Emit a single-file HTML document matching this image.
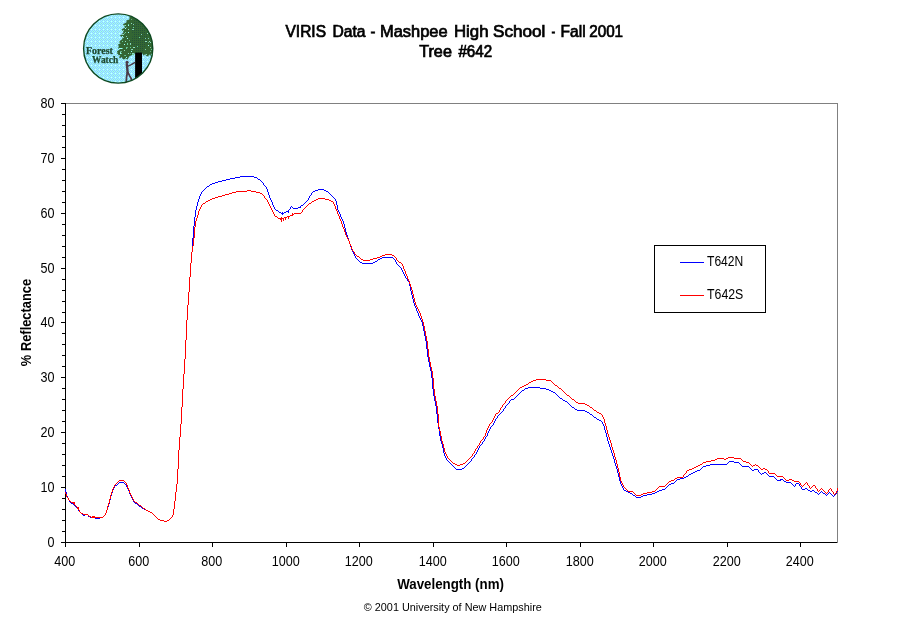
<!DOCTYPE html>
<html lang="en"><head><meta charset="utf-8"><title>VIRIS Data - Mashpee High School - Fall 2001 - Tree #642</title>
<style>
html,body{margin:0;padding:0;background:#fff;}
body{width:911px;height:623px;overflow:hidden;position:relative;font-family:"Liberation Sans",Arial,sans-serif;color:#000;}
svg{position:absolute;left:0;top:0;display:block;will-change:transform;}
.t{font-family:"Liberation Sans",Arial,sans-serif;fill:#000;}
.tick{font-size:13.8px;}
.b{font-weight:bold;}
.logo{font-family:"Liberation Serif","Times New Roman",serif;font-weight:bold;fill:#1e4a30;stroke:#1e4a30;stroke-width:0.25px;font-size:9.6px;}
</style></head><body>
<svg width="911" height="623" viewBox="0 0 911 623">
<rect x="0" y="0" width="911" height="623" fill="#ffffff"/>
<defs><clipPath id="lc"><circle cx="118.2" cy="48.5" r="34.6"/></clipPath>
<pattern id="dz" width="4" height="4" patternUnits="userSpaceOnUse"><rect width="4" height="4" fill="#99ffff"/><rect x="0" y="0" width="1" height="1" fill="#99ccff"/><rect x="2" y="0" width="1" height="1" fill="#99ccff"/><rect x="1" y="1" width="1" height="1" fill="#99ccff"/><rect x="3" y="1" width="1" height="1" fill="#ccffff"/><rect x="0" y="2" width="1" height="1" fill="#99ccff"/><rect x="2" y="2" width="1" height="1" fill="#99ccff"/><rect x="1" y="3" width="1" height="1" fill="#99d9d9"/><rect x="3" y="3" width="1" height="1" fill="#99ccff"/></pattern>
<pattern id="dk" width="2" height="2" patternUnits="userSpaceOnUse"><rect width="2" height="2" fill="#336633"/><rect width="1" height="1" fill="#24523a"/></pattern></defs>
<g id="logo">
<circle cx="118.2" cy="48.5" r="34.6" fill="url(#dz)"/>
<g clip-path="url(#lc)">
<polygon points="129.5,17.5 129.4,19.4 126.3,20.6 126.6,22.2 123.8,23.8 122.9,24.8 124.4,26.3 125.0,27.6 122.6,28.8 121.6,29.7 123.2,31.3 123.4,32.6 121.3,34.4 119.9,35.7 121.9,36.9 122.5,39.1 120.1,40.7 119.1,42.0 120.7,43.2 118.0,44.4 118.8,46.3 118.1,48.2 119.8,49.4 116.9,51.2 117.6,52.6 116.6,53.6 118.6,54.1 117.6,55.3 120.3,55.1 119.1,57.3 119.8,58.6 121.9,57.0 122.6,59.1 124.1,59.6 125.7,58.2 127.3,59.8 129.5,56.3 132.0,55.1 135.1,53.2 142.0,53.2 143.9,55.7 145.1,54.1 146.4,56.1 148.2,56.6 149.1,54.6 150.4,55.3 152.0,53.2 160.1,52.6 160.1,10.0 129.5,10.0" fill="#336633"/>
<polygon points="133.8,18.8 130.7,28.8 133.2,35.0 129.5,42.6 134.5,47.6 135.1,53.2 142.0,53.2 144.5,47.6 148.2,41.3 146.4,32.5 144.5,25.0 140.1,19.4" fill="url(#dk)"/>
<rect x="129" y="40" width="1" height="1" fill="#5fae88"/><rect x="125" y="28" width="1" height="1" fill="#99ffff"/><rect x="133" y="27" width="1" height="1" fill="#66cc99"/><rect x="128" y="25" width="1" height="1" fill="#99ffff"/><rect x="119" y="48" width="2" height="1" fill="#99ffff"/><rect x="119" y="42" width="1" height="1" fill="#66cc99"/><rect x="128" y="53" width="1" height="1" fill="#8fdcc0"/><rect x="131" y="51" width="1" height="1" fill="#99ffff"/><rect x="126" y="48" width="1" height="1" fill="#66cc99"/><rect x="131" y="19" width="1" height="1" fill="#5fae88"/><rect x="125" y="41" width="1" height="1" fill="#8fdcc0"/><rect x="124" y="55" width="2" height="1" fill="#5fae88"/><rect x="126" y="47" width="2" height="1" fill="#66cc99"/><rect x="132" y="54" width="2" height="1" fill="#66cc99"/><rect x="150" y="47" width="1" height="1" fill="#66cc99"/><rect x="127" y="38" width="1" height="1" fill="#99ffff"/><rect x="130" y="53" width="1" height="1" fill="#5fae88"/><rect x="137" y="46" width="1" height="1" fill="#66cc99"/><rect x="130" y="44" width="1" height="1" fill="#7fcbb0"/><rect x="132" y="29" width="2" height="1" fill="#7fcbb0"/><rect x="121" y="48" width="2" height="1" fill="#66cc99"/><rect x="122" y="41" width="1" height="1" fill="#66cc99"/><rect x="141" y="34" width="1" height="1" fill="#7fcbb0"/><rect x="132" y="49" width="1" height="1" fill="#8fdcc0"/><rect x="122" y="36" width="1" height="1" fill="#99ffff"/><rect x="123" y="34" width="1" height="1" fill="#8fdcc0"/><rect x="148" y="42" width="1" height="1" fill="#99ffff"/><rect x="130" y="43" width="1" height="1" fill="#8fdcc0"/><rect x="131" y="23" width="1" height="1" fill="#8fdcc0"/><rect x="145" y="49" width="1" height="1" fill="#7fcbb0"/><rect x="124" y="50" width="1" height="1" fill="#8fdcc0"/><rect x="145" y="38" width="1" height="1" fill="#7fcbb0"/><rect x="148" y="45" width="1" height="1" fill="#99ffff"/><rect x="132" y="53" width="2" height="1" fill="#8fdcc0"/><rect x="133" y="24" width="1" height="1" fill="#7fcbb0"/><rect x="120" y="52" width="1" height="1" fill="#8fdcc0"/><rect x="125" y="32" width="1" height="1" fill="#66cc99"/><rect x="150" y="51" width="1" height="1" fill="#5fae88"/><rect x="123" y="30" width="1" height="1" fill="#7fcbb0"/><rect x="122" y="37" width="2" height="1" fill="#7fcbb0"/><rect x="149" y="41" width="1" height="1" fill="#8fdcc0"/><rect x="131" y="49" width="1" height="1" fill="#7fcbb0"/><rect x="151" y="49" width="2" height="1" fill="#66cc99"/><rect x="126" y="36" width="1" height="1" fill="#7fcbb0"/><rect x="150" y="55" width="2" height="1" fill="#5fae88"/><rect x="128" y="24" width="1" height="1" fill="#66cc99"/><rect x="121" y="48" width="1" height="1" fill="#99ffff"/><rect x="124" y="25" width="1" height="1" fill="#66cc99"/><rect x="148" y="42" width="1" height="1" fill="#5fae88"/><rect x="125" y="25" width="1" height="1" fill="#8fdcc0"/><rect x="150" y="42" width="1" height="1" fill="#8fdcc0"/><rect x="128" y="29" width="1" height="1" fill="#8fdcc0"/><rect x="120" y="53" width="1" height="1" fill="#99ffff"/><rect x="147" y="33" width="1" height="1" fill="#8fdcc0"/><rect x="124" y="44" width="1" height="1" fill="#99ffff"/><rect x="145" y="41" width="2" height="1" fill="#8fdcc0"/><rect x="127" y="44" width="1" height="1" fill="#8fdcc0"/><rect x="133" y="47" width="2" height="1" fill="#8fdcc0"/><rect x="120" y="51" width="2" height="1" fill="#5fae88"/><rect x="139" y="37" width="1" height="1" fill="#66cc99"/><rect x="150" y="47" width="1" height="1" fill="#7fcbb0"/><rect x="121" y="29" width="1" height="1" fill="#7fcbb0"/><rect x="125" y="55" width="1" height="1" fill="#66cc99"/><rect x="124" y="33" width="1" height="1" fill="#5fae88"/><rect x="126" y="27" width="1" height="1" fill="#5fae88"/><rect x="148" y="38" width="1" height="1" fill="#7fcbb0"/><rect x="127" y="43" width="1" height="1" fill="#66cc99"/><rect x="128" y="32" width="1" height="1" fill="#99ffff"/><rect x="146" y="54" width="1" height="1" fill="#8fdcc0"/><rect x="121" y="34" width="2" height="1" fill="#7fcbb0"/><rect x="130" y="47" width="1" height="1" fill="#66cc99"/><rect x="121" y="53" width="1" height="1" fill="#66cc99"/><rect x="127" y="44" width="1" height="1" fill="#66cc99"/><rect x="126" y="57" width="1" height="1" fill="#99ffff"/><rect x="127" y="47" width="1" height="1" fill="#5fae88"/>
<rect x="135.1" y="52.6" width="6.9" height="32" fill="#000"/>
<circle cx="127.1" cy="62.3" r="1.5" fill="#4a3a46"/>
<polyline points="126.8,64.1 127.3,68.8 127.6,72.6" fill="none" stroke="#4a3a46" stroke-width="2.4" stroke-linecap="round" stroke-linejoin="round"/>
<polyline points="128.1,66.1 131.3,64.6 134.6,62.6" fill="none" stroke="#4a3a46" stroke-width="1.4" stroke-linecap="round" stroke-linejoin="round"/>
<polyline points="127.3,72.6 126.6,77.0 126.3,81.6" fill="none" stroke="#4a3a46" stroke-width="1.8" stroke-linecap="round" stroke-linejoin="round"/>
<polyline points="128.0,72.6 129.8,76.1 131.1,78.2 131.3,80.4" fill="none" stroke="#4a3a46" stroke-width="1.7" stroke-linecap="round" stroke-linejoin="round"/>
</g>
<circle cx="118.2" cy="48.5" r="34.6" fill="none" stroke="#0f4a22" stroke-width="1.4"/>
<text class="logo" x="86.0" y="53.8" textLength="26.8" lengthAdjust="spacingAndGlyphs">Forest</text>
<text class="logo" x="92.1" y="63.2" textLength="26.0" lengthAdjust="spacingAndGlyphs">Watch</text>
</g>
<text class="t" x="285.50" y="36.6" font-size="15.6" textLength="40.50" lengthAdjust="spacingAndGlyphs" stroke="#000" stroke-width="0.7">VIRIS</text>
<text class="t" x="332.40" y="36.6" font-size="15.6" textLength="33.10" lengthAdjust="spacingAndGlyphs" stroke="#000" stroke-width="0.7">Data</text>
<text class="t" x="370.50" y="36.6" font-size="15.6" textLength="4.90" lengthAdjust="spacingAndGlyphs" stroke="#000" stroke-width="0.7">-</text>
<text class="t" x="380.00" y="36.6" font-size="15.6" textLength="67.60" lengthAdjust="spacingAndGlyphs" stroke="#000" stroke-width="0.7">Mashpee</text>
<text class="t" x="454.00" y="36.6" font-size="15.6" textLength="34.50" lengthAdjust="spacingAndGlyphs" stroke="#000" stroke-width="0.7">High</text>
<text class="t" x="493.00" y="36.6" font-size="15.6" textLength="52.30" lengthAdjust="spacingAndGlyphs" stroke="#000" stroke-width="0.7">School</text>
<text class="t" x="551.50" y="36.6" font-size="15.6" textLength="3.80" lengthAdjust="spacingAndGlyphs" stroke="#000" stroke-width="0.7">-</text>
<text class="t" x="560.60" y="36.6" font-size="15.6" textLength="25.00" lengthAdjust="spacingAndGlyphs" stroke="#000" stroke-width="0.7">Fall</text>
<text class="t" x="589.20" y="36.6" font-size="15.6" textLength="33.90" lengthAdjust="spacingAndGlyphs" stroke="#000" stroke-width="0.7">2001</text>
<text class="t" x="419.20" y="57.2" font-size="15.6" textLength="32.70" lengthAdjust="spacingAndGlyphs" stroke="#000" stroke-width="0.7">Tree</text>
<text class="t" x="458.40" y="57.2" font-size="15.6" textLength="33.80" lengthAdjust="spacingAndGlyphs" stroke="#000" stroke-width="0.7">#642</text>
<g shape-rendering="crispEdges">
<rect x="65" y="103" width="773" height="1" fill="#808080"/>
<rect x="837" y="103" width="1" height="440" fill="#808080"/>
<rect x="65" y="103" width="1" height="444" fill="#000"/>
<rect x="61" y="542" width="776" height="1" fill="#000"/>
<rect x="61" y="542" width="4" height="1" fill="#000"/>
<rect x="62" y="531" width="3" height="1" fill="#000"/>
<rect x="62" y="520" width="3" height="1" fill="#000"/>
<rect x="62" y="509" width="3" height="1" fill="#000"/>
<rect x="62" y="498" width="3" height="1" fill="#000"/>
<rect x="61" y="487" width="4" height="1" fill="#000"/>
<rect x="62" y="476" width="3" height="1" fill="#000"/>
<rect x="62" y="465" width="3" height="1" fill="#000"/>
<rect x="62" y="454" width="3" height="1" fill="#000"/>
<rect x="62" y="443" width="3" height="1" fill="#000"/>
<rect x="61" y="432" width="4" height="1" fill="#000"/>
<rect x="62" y="421" width="3" height="1" fill="#000"/>
<rect x="62" y="410" width="3" height="1" fill="#000"/>
<rect x="62" y="399" width="3" height="1" fill="#000"/>
<rect x="62" y="388" width="3" height="1" fill="#000"/>
<rect x="61" y="377" width="4" height="1" fill="#000"/>
<rect x="62" y="366" width="3" height="1" fill="#000"/>
<rect x="62" y="355" width="3" height="1" fill="#000"/>
<rect x="62" y="344" width="3" height="1" fill="#000"/>
<rect x="62" y="333" width="3" height="1" fill="#000"/>
<rect x="61" y="322" width="4" height="1" fill="#000"/>
<rect x="62" y="312" width="3" height="1" fill="#000"/>
<rect x="62" y="301" width="3" height="1" fill="#000"/>
<rect x="62" y="290" width="3" height="1" fill="#000"/>
<rect x="62" y="279" width="3" height="1" fill="#000"/>
<rect x="61" y="268" width="4" height="1" fill="#000"/>
<rect x="62" y="257" width="3" height="1" fill="#000"/>
<rect x="62" y="246" width="3" height="1" fill="#000"/>
<rect x="62" y="235" width="3" height="1" fill="#000"/>
<rect x="62" y="224" width="3" height="1" fill="#000"/>
<rect x="61" y="213" width="4" height="1" fill="#000"/>
<rect x="62" y="202" width="3" height="1" fill="#000"/>
<rect x="62" y="191" width="3" height="1" fill="#000"/>
<rect x="62" y="180" width="3" height="1" fill="#000"/>
<rect x="62" y="169" width="3" height="1" fill="#000"/>
<rect x="61" y="158" width="4" height="1" fill="#000"/>
<rect x="62" y="147" width="3" height="1" fill="#000"/>
<rect x="62" y="136" width="3" height="1" fill="#000"/>
<rect x="62" y="125" width="3" height="1" fill="#000"/>
<rect x="62" y="114" width="3" height="1" fill="#000"/>
<rect x="61" y="103" width="4" height="1" fill="#000"/>
<rect x="65" y="542" width="1" height="5" fill="#000"/>
<rect x="139" y="542" width="1" height="5" fill="#000"/>
<rect x="212" y="542" width="1" height="5" fill="#000"/>
<rect x="286" y="542" width="1" height="5" fill="#000"/>
<rect x="359" y="542" width="1" height="5" fill="#000"/>
<rect x="433" y="542" width="1" height="5" fill="#000"/>
<rect x="506" y="542" width="1" height="5" fill="#000"/>
<rect x="580" y="542" width="1" height="5" fill="#000"/>
<rect x="653" y="542" width="1" height="5" fill="#000"/>
<rect x="727" y="542" width="1" height="5" fill="#000"/>
<rect x="800" y="542" width="1" height="5" fill="#000"/>
</g>
<text class="t tick" x="54.4" y="547.3" text-anchor="end" textLength="7" lengthAdjust="spacingAndGlyphs">0</text>
<text class="t tick" x="54.4" y="492.3" text-anchor="end" textLength="14" lengthAdjust="spacingAndGlyphs">10</text>
<text class="t tick" x="54.4" y="437.3" text-anchor="end" textLength="14" lengthAdjust="spacingAndGlyphs">20</text>
<text class="t tick" x="54.4" y="382.3" text-anchor="end" textLength="14" lengthAdjust="spacingAndGlyphs">30</text>
<text class="t tick" x="54.4" y="327.3" text-anchor="end" textLength="14" lengthAdjust="spacingAndGlyphs">40</text>
<text class="t tick" x="54.4" y="273.3" text-anchor="end" textLength="14" lengthAdjust="spacingAndGlyphs">50</text>
<text class="t tick" x="54.4" y="218.3" text-anchor="end" textLength="14" lengthAdjust="spacingAndGlyphs">60</text>
<text class="t tick" x="54.4" y="163.3" text-anchor="end" textLength="14" lengthAdjust="spacingAndGlyphs">70</text>
<text class="t tick" x="54.4" y="108.3" text-anchor="end" textLength="14" lengthAdjust="spacingAndGlyphs">80</text>
<text class="t tick" x="64.7" y="565.7" text-anchor="middle" textLength="21" lengthAdjust="spacingAndGlyphs">400</text>
<text class="t tick" x="138.7" y="565.7" text-anchor="middle" textLength="21" lengthAdjust="spacingAndGlyphs">600</text>
<text class="t tick" x="211.7" y="565.7" text-anchor="middle" textLength="21" lengthAdjust="spacingAndGlyphs">800</text>
<text class="t tick" x="285.7" y="565.7" text-anchor="middle" textLength="28" lengthAdjust="spacingAndGlyphs">1000</text>
<text class="t tick" x="358.7" y="565.7" text-anchor="middle" textLength="28" lengthAdjust="spacingAndGlyphs">1200</text>
<text class="t tick" x="432.7" y="565.7" text-anchor="middle" textLength="28" lengthAdjust="spacingAndGlyphs">1400</text>
<text class="t tick" x="505.7" y="565.7" text-anchor="middle" textLength="28" lengthAdjust="spacingAndGlyphs">1600</text>
<text class="t tick" x="579.7" y="565.7" text-anchor="middle" textLength="28" lengthAdjust="spacingAndGlyphs">1800</text>
<text class="t tick" x="652.7" y="565.7" text-anchor="middle" textLength="28" lengthAdjust="spacingAndGlyphs">2000</text>
<text class="t tick" x="726.7" y="565.7" text-anchor="middle" textLength="28" lengthAdjust="spacingAndGlyphs">2200</text>
<text class="t tick" x="799.7" y="565.7" text-anchor="middle" textLength="28" lengthAdjust="spacingAndGlyphs">2400</text>
<text class="t b" x="450.6" y="588.9" font-size="14" text-anchor="middle" textLength="106.7" lengthAdjust="spacingAndGlyphs">Wavelength (nm)</text>
<text class="t b" transform="translate(30.7,322.5) rotate(-90)" font-size="14" text-anchor="middle" textLength="87.3" lengthAdjust="spacingAndGlyphs">% Reflectance</text>
<text class="t" x="452.8" y="611.2" font-size="10.67" text-anchor="middle" textLength="178" lengthAdjust="spacingAndGlyphs">© 2001 University of New Hampshire</text>
<path shape-rendering="crispEdges" fill="#0000ff" d="M175 492h1v9h-1zM437 414h1v9h-1zM346 232h1v3h-1zM424 331h1v5h-1zM182 389h1v18h-1zM189 277h1v15h-1zM194 217h1v9h-1zM413 299h1v4h-1zM433 389h1v7h-1zM188 292h1v13h-1zM190 263h1v14h-1zM176 484h1v8h-1zM187 305h1v15h-1zM181 407h1v17h-1zM195 210h1v7h-1zM180 424h1v13h-1zM426 341h1v8h-1zM432 378h1v11h-1zM617 469h1v4h-1zM619 477h1v4h-1zM606 433h1v4h-1zM179 437h1v13h-1zM442 444h1v4h-1zM612 453h1v3h-1zM185 340h1v19h-1zM174 501h1v8h-1zM428 357h1v5h-1zM186 320h1v20h-1zM193 226h1v12h-1zM178 450h1v19h-1zM192 238h1v14h-1zM269 195h1v3h-1zM184 359h1v15h-1zM191 252h1v11h-1zM348 238h1v3h-1zM351 247h1v3h-1zM604 426h1v4h-1zM414 303h1v3h-1zM605 430h1v3h-1zM177 469h1v15h-1zM337 205h1v5h-1zM441 441h1v3h-1zM430 367h1v4h-1zM444 453h1v3h-1zM410 286h1v5h-1zM66 492h1v4h-1zM427 349h1v8h-1zM610 447h1v3h-1zM183 374h1v15h-1zM613 456h1v3h-1zM268 192h1v3h-1zM614 459h1v4h-1zM347 235h1v3h-1zM435 401h1v5h-1zM436 406h1v8h-1zM439 429h1v7h-1zM65 489h1v3h-1zM110 496h1v4h-1zM609 444h1v3h-1zM418 313h1v3h-1zM197 202h1v4h-1zM615 463h1v3h-1zM618 473h1v4h-1zM431 371h1v7h-1zM344 224h1v4h-1zM434 396h1v5h-1zM107 507h1v3h-1zM416 308h1v3h-1zM409 282h1v4h-1zM106 510h1v3h-1zM345 228h1v4h-1zM487 433h1v3h-1zM109 500h1v4h-1zM422 322h1v4h-1zM340 214h1v3h-1zM196 206h1v4h-1zM272 202h1v3h-1zM112 490h1v3h-1zM440 436h1v5h-1zM343 221h1v3h-1zM199 196h1v3h-1zM412 295h1v4h-1zM198 199h1v3h-1zM438 423h1v6h-1zM129 491h1v3h-1zM173 509h1v6h-1zM411 291h1v4h-1zM611 450h1v3h-1zM350 244h1v3h-1zM336 201h1v4h-1zM443 448h1v5h-1zM423 326h1v5h-1zM267 189h1v3h-1zM349 241h1v3h-1zM429 362h1v5h-1zM108 504h1v3h-1zM425 336h1v5h-1zM111 493h1v3h-1zM607 437h1v4h-1zM620 481h1v3h-1zM616 466h1v3h-1zM608 441h1v3h-1zM117 484h1v1h-1zM125 484h1v1h-1zM621 484h1v1h-1zM669 484h2v1h-2zM792 484h1v1h-1zM795 484h1v1h-1zM799 484h1v1h-1zM630 493h2v1h-2zM652 493h3v1h-3zM817 493h1v1h-1zM819 493h1v1h-1zM823 493h2v1h-2zM828 493h1v1h-1zM830 493h1v1h-1zM836 493h1v1h-1zM95 518h5v1h-5zM157 518h1v1h-1zM170 518h1v1h-1zM477 451h1v1h-1zM403 273h1v1h-1zM240 176h14v1h-14zM362 263h11v1h-11zM396 263h1v1h-1zM452 465h1v1h-1zM466 465h1v1h-1zM706 465h4v1h-4zM741 465h1v1h-1zM505 406h1v1h-1zM571 406h1v1h-1zM354 255h1v1h-1zM281 213h3v1h-3zM339 213h1v1h-1zM275 209h1v1h-1zM289 209h1v1h-1zM521 391h1v1h-1zM551 391h2v1h-2zM204 189h1v1h-1zM318 189h6v1h-6zM164 521h3v1h-3zM73 504h1v1h-1zM137 504h1v1h-1zM417 311h1v1h-1zM90 517h5v1h-5zM100 517h3v1h-3zM156 517h1v1h-1zM171 517h1v1h-1zM222 180h4v1h-4zM260 180h1v1h-1zM276 210h2v1h-2zM288 210h1v1h-1zM338 210h1v1h-1zM74 505h1v1h-1zM138 505h1v1h-1zM230 178h5v1h-5zM257 178h1v1h-1zM118 483h1v1h-1zM124 483h1v1h-1zM671 483h3v1h-3zM791 483h1v1h-1zM796 483h3v1h-3zM448 461h1v1h-1zM470 461h1v1h-1zM729 461h5v1h-5zM446 459h1v1h-1zM471 459h1v1h-1zM456 469h6v1h-6zM700 469h1v1h-1zM751 469h1v1h-1zM754 469h4v1h-4zM406 278h1v1h-1zM235 177h5v1h-5zM254 177h3v1h-3zM453 466h1v1h-1zM465 466h1v1h-1zM703 466h3v1h-3zM742 466h7v1h-7zM119 482h5v1h-5zM674 482h1v1h-1zM786 482h5v1h-5zM522 390h2v1h-2zM549 390h2v1h-2zM218 181h4v1h-4zM261 181h1v1h-1zM511 399h3v1h-3zM562 399h1v1h-1zM677 479h3v1h-3zM776 479h1v1h-1zM780 479h3v1h-3zM686 476h2v1h-2zM769 476h5v1h-5zM501 412h1v1h-1zM587 412h2v1h-2zM451 464h1v1h-1zM467 464h1v1h-1zM710 464h17v1h-17zM740 464h1v1h-1zM484 440h1v1h-1zM510 400h1v1h-1zM563 400h2v1h-2zM680 478h4v1h-4zM775 478h1v1h-1zM201 192h1v1h-1zM312 192h1v1h-1zM328 192h1v1h-1zM450 463h1v1h-1zM468 463h1v1h-1zM727 463h1v1h-1zM739 463h1v1h-1zM309 197h1v1h-1zM333 197h1v1h-1zM628 492h2v1h-2zM655 492h2v1h-2zM815 492h2v1h-2zM820 492h1v1h-1zM822 492h1v1h-1zM829 492h1v1h-1zM836 492h1v1h-1zM489 429h1v1h-1zM210 184h2v1h-2zM263 184h1v1h-1zM504 408h1v1h-1zM574 408h1v1h-1zM69 501h1v1h-1zM133 501h1v1h-1zM114 487h1v1h-1zM127 487h1v1h-1zM622 487h1v1h-1zM666 487h1v1h-1zM801 487h1v1h-1zM202 191h1v1h-1zM313 191h2v1h-2zM326 191h2v1h-2zM449 462h1v1h-1zM469 462h1v1h-1zM728 462h1v1h-1zM734 462h5v1h-5zM499 414h1v1h-1zM590 414h2v1h-2zM212 183h3v1h-3zM263 183h1v1h-1zM691 473h2v1h-2zM760 473h1v1h-1zM762 473h2v1h-2zM766 473h1v1h-1zM130 495h1v1h-1zM633 495h2v1h-2zM643 495h4v1h-4zM826 495h1v1h-1zM832 495h1v1h-1zM834 495h1v1h-1zM355 257h1v1h-1zM382 257h11v1h-11zM352 251h1v1h-1zM71 503h2v1h-2zM135 503h2v1h-2zM353 252h1v1h-1zM271 201h1v1h-1zM306 201h1v1h-1zM203 190h1v1h-1zM315 190h3v1h-3zM324 190h2v1h-2zM494 422h1v1h-1zM602 422h1v1h-1zM445 456h1v1h-1zM474 456h1v1h-1zM404 275h1v1h-1zM497 417h1v1h-1zM594 417h2v1h-2zM342 220h1v1h-1zM405 276h1v1h-1zM626 491h2v1h-2zM657 491h2v1h-2zM810 491h2v1h-2zM814 491h1v1h-1zM821 491h1v1h-1zM837 491h1v1h-1zM415 307h1v1h-1zM270 199h1v1h-1zM308 199h1v1h-1zM335 199h1v1h-1zM82 514h1v1h-1zM85 514h3v1h-3zM105 514h1v1h-1zM153 514h1v1h-1zM274 208h1v1h-1zM290 208h1v1h-1zM293 208h5v1h-5zM357 259h1v1h-1zM378 259h2v1h-2zM394 259h1v1h-1zM78 510h1v1h-1zM146 510h2v1h-2zM75 506h1v1h-1zM139 506h2v1h-2zM488 431h1v1h-1zM206 187h1v1h-1zM266 187h1v1h-1zM676 480h1v1h-1zM777 480h4v1h-4zM783 480h1v1h-1zM697 470h3v1h-3zM752 470h2v1h-2zM758 470h1v1h-1zM113 488h1v1h-1zM127 488h1v1h-1zM623 488h1v1h-1zM665 488h1v1h-1zM801 488h1v1h-1zM805 488h2v1h-2zM130 494h1v1h-1zM632 494h1v1h-1zM647 494h5v1h-5zM818 494h1v1h-1zM825 494h1v1h-1zM827 494h1v1h-1zM831 494h1v1h-1zM835 494h1v1h-1zM528 387h12v1h-12zM503 410h1v1h-1zM577 410h8v1h-8zM408 281h1v1h-1zM505 407h1v1h-1zM572 407h2v1h-2zM675 481h1v1h-1zM784 481h2v1h-2zM88 516h2v1h-2zM103 516h1v1h-1zM155 516h1v1h-1zM172 516h1v1h-1zM78 509h1v1h-1zM144 509h2v1h-2zM68 498h1v1h-1zM132 498h1v1h-1zM684 477h2v1h-2zM774 477h1v1h-1zM689 474h2v1h-2zM761 474h1v1h-1zM767 474h1v1h-1zM274 207h1v1h-1zM290 207h1v1h-1zM292 207h1v1h-1zM298 207h3v1h-3zM356 258h1v1h-1zM380 258h2v1h-2zM393 258h1v1h-1zM279 212h2v1h-2zM284 212h2v1h-2zM339 212h1v1h-1zM518 394h1v1h-1zM556 394h1v1h-1zM525 388h3v1h-3zM540 388h6v1h-6zM160 520h4v1h-4zM167 520h2v1h-2zM67 497h1v1h-1zM131 497h1v1h-1zM636 497h5v1h-5zM207 186h2v1h-2zM265 186h1v1h-1zM495 419h1v1h-1zM597 419h2v1h-2zM400 267h1v1h-1zM455 468h1v1h-1zM462 468h2v1h-2zM701 468h1v1h-1zM750 468h1v1h-1zM341 217h1v1h-1zM158 519h2v1h-2zM169 519h1v1h-1zM200 194h1v1h-1zM311 194h1v1h-1zM330 194h1v1h-1zM491 426h1v1h-1zM506 405h1v1h-1zM570 405h1v1h-1zM115 485h2v1h-2zM126 485h1v1h-1zM621 485h1v1h-1zM668 485h1v1h-1zM793 485h1v1h-1zM795 485h1v1h-1zM799 485h1v1h-1zM524 389h1v1h-1zM546 389h3v1h-3zM358 260h1v1h-1zM377 260h1v1h-1zM395 260h1v1h-1zM421 321h1v1h-1zM502 411h1v1h-1zM585 411h2v1h-2zM403 272h1v1h-1zM113 489h1v1h-1zM128 489h1v1h-1zM623 489h1v1h-1zM662 489h3v1h-3zM802 489h3v1h-3zM807 489h1v1h-1zM354 254h1v1h-1zM273 206h1v1h-1zM291 206h1v1h-1zM300 206h1v1h-1zM360 262h2v1h-2zM373 262h2v1h-2zM396 262h1v1h-1zM495 420h1v1h-1zM599 420h2v1h-2zM520 392h1v1h-1zM553 392h2v1h-2zM509 401h1v1h-1zM565 401h2v1h-2zM69 500h1v1h-1zM133 500h1v1h-1zM81 513h1v1h-1zM105 513h1v1h-1zM152 513h1v1h-1zM516 396h1v1h-1zM558 396h1v1h-1zM128 490h1v1h-1zM624 490h2v1h-2zM659 490h3v1h-3zM808 490h2v1h-2zM812 490h2v1h-2zM273 205h1v1h-1zM301 205h2v1h-2zM271 200h1v1h-1zM307 200h1v1h-1zM335 200h1v1h-1zM419 317h1v1h-1zM420 318h1v1h-1zM493 424h1v1h-1zM603 424h1v1h-1zM114 486h1v1h-1zM126 486h1v1h-1zM622 486h1v1h-1zM667 486h1v1h-1zM794 486h1v1h-1zM800 486h1v1h-1zM278 211h1v1h-1zM286 211h2v1h-2zM338 211h1v1h-1zM68 499h1v1h-1zM132 499h1v1h-1zM76 507h1v1h-1zM141 507h1v1h-1zM508 403h1v1h-1zM568 403h1v1h-1zM503 409h1v1h-1zM575 409h2v1h-2zM446 458h1v1h-1zM472 458h1v1h-1zM83 515h2v1h-2zM88 515h1v1h-1zM104 515h1v1h-1zM154 515h1v1h-1zM172 515h1v1h-1zM67 496h1v1h-1zM131 496h1v1h-1zM635 496h1v1h-1zM641 496h2v1h-2zM833 496h1v1h-1zM695 471h2v1h-2zM758 471h1v1h-1zM454 467h1v1h-1zM464 467h1v1h-1zM702 467h1v1h-1zM749 467h1v1h-1zM421 320h1v1h-1zM479 446h1v1h-1zM397 264h1v1h-1zM447 460h1v1h-1zM471 460h1v1h-1zM304 203h1v1h-1zM70 502h1v1h-1zM134 502h1v1h-1zM494 421h1v1h-1zM601 421h1v1h-1zM226 179h4v1h-4zM258 179h2v1h-2zM200 195h1v1h-1zM310 195h1v1h-1zM331 195h1v1h-1zM270 198h1v1h-1zM308 198h1v1h-1zM334 198h1v1h-1zM490 427h1v1h-1zM693 472h2v1h-2zM759 472h1v1h-1zM764 472h2v1h-2zM209 185h1v1h-1zM264 185h1v1h-1zM215 182h3v1h-3zM262 182h1v1h-1zM492 425h1v1h-1zM603 425h1v1h-1zM478 448h1v1h-1zM407 280h1v1h-1zM417 312h1v1h-1zM474 455h1v1h-1zM497 416h1v1h-1zM593 416h1v1h-1zM77 508h1v1h-1zM142 508h2v1h-2zM493 423h1v1h-1zM602 423h1v1h-1zM485 437h1v1h-1zM489 430h1v1h-1zM519 393h1v1h-1zM555 393h1v1h-1zM445 457h1v1h-1zM473 457h1v1h-1zM398 265h1v1h-1zM399 266h1v1h-1zM402 271h1v1h-1zM477 450h1v1h-1zM353 253h1v1h-1zM405 277h1v1h-1zM496 418h1v1h-1zM596 418h1v1h-1zM514 398h1v1h-1zM560 398h2v1h-2zM488 432h1v1h-1zM484 439h1v1h-1zM507 404h1v1h-1zM569 404h1v1h-1zM476 453h1v1h-1zM309 196h1v1h-1zM332 196h1v1h-1zM80 512h1v1h-1zM150 512h2v1h-2zM79 511h1v1h-1zM148 511h2v1h-2zM688 475h1v1h-1zM768 475h1v1h-1zM352 250h1v1h-1zM517 395h1v1h-1zM557 395h1v1h-1zM205 188h1v1h-1zM266 188h1v1h-1zM341 218h1v1h-1zM401 269h1v1h-1zM404 274h1v1h-1zM342 219h1v1h-1zM355 256h1v1h-1zM483 441h1v1h-1zM415 306h1v1h-1zM303 204h1v1h-1zM201 193h1v1h-1zM311 193h1v1h-1zM329 193h1v1h-1zM407 279h1v1h-1zM500 413h1v1h-1zM589 413h1v1h-1zM498 415h1v1h-1zM592 415h1v1h-1zM509 402h1v1h-1zM567 402h1v1h-1zM486 436h1v1h-1zM482 443h1v1h-1zM402 270h1v1h-1zM420 319h1v1h-1zM480 445h1v1h-1zM305 202h1v1h-1zM476 452h1v1h-1zM359 261h1v1h-1zM375 261h2v1h-2zM395 261h1v1h-1zM515 397h1v1h-1zM559 397h1v1h-1zM401 268h1v1h-1zM419 316h1v1h-1zM475 454h1v1h-1zM479 447h1v1h-1zM490 428h1v1h-1zM478 449h1v1h-1zM482 442h1v1h-1zM485 438h1v1h-1zM481 444h1v1h-1zM282 212h1v3h-1zM281 213h1v1h-1zM288 210h1v3h-1z"/>
<path shape-rendering="crispEdges" fill="#ff0000" d="M198 211h1v4h-1zM175 492h1v9h-1zM433 378h1v11h-1zM182 389h1v18h-1zM617 464h1v4h-1zM189 277h1v15h-1zM427 341h1v8h-1zM195 221h1v6h-1zM442 441h1v3h-1zM607 430h1v4h-1zM443 444h1v4h-1zM188 292h1v13h-1zM190 263h1v14h-1zM436 401h1v5h-1zM194 227h1v11h-1zM405 271h1v3h-1zM176 484h1v8h-1zM187 305h1v15h-1zM181 407h1v17h-1zM439 427h1v4h-1zM180 424h1v13h-1zM179 437h1v13h-1zM438 414h1v13h-1zM615 457h1v3h-1zM193 238h1v8h-1zM185 340h1v19h-1zM412 290h1v4h-1zM174 501h1v8h-1zM415 302h1v3h-1zM441 436h1v5h-1zM435 396h1v5h-1zM186 320h1v20h-1zM429 357h1v5h-1zM422 319h1v3h-1zM431 367h1v4h-1zM178 450h1v19h-1zM127 485h1v3h-1zM341 221h1v3h-1zM184 359h1v15h-1zM434 389h1v7h-1zM191 252h1v11h-1zM619 472h1v5h-1zM608 434h1v3h-1zM177 469h1v15h-1zM611 443h1v4h-1zM407 276h1v3h-1zM425 331h1v5h-1zM604 419h1v4h-1zM411 287h1v3h-1zM440 431h1v5h-1zM420 313h1v3h-1zM183 374h1v15h-1zM339 216h1v3h-1zM107 506h1v4h-1zM423 322h1v4h-1zM409 281h1v3h-1zM110 495h1v4h-1zM616 460h1v4h-1zM426 336h1v5h-1zM109 499h1v4h-1zM197 215h1v3h-1zM428 349h1v8h-1zM112 489h1v3h-1zM430 362h1v5h-1zM66 494h1v3h-1zM437 406h1v8h-1zM610 440h1v3h-1zM613 450h1v3h-1zM106 510h1v3h-1zM335 206h1v3h-1zM342 224h1v3h-1zM609 437h1v3h-1zM612 447h1v3h-1zM432 371h1v7h-1zM192 246h1v6h-1zM486 430h1v3h-1zM403 266h1v3h-1zM485 433h1v3h-1zM620 477h1v4h-1zM606 426h1v4h-1zM129 490h1v3h-1zM173 509h1v6h-1zM196 218h1v3h-1zM414 298h1v4h-1zM605 423h1v3h-1zM337 211h1v3h-1zM618 468h1v4h-1zM111 492h1v3h-1zM837 488h1v3h-1zM413 294h1v4h-1zM349 241h1v3h-1zM108 503h1v3h-1zM421 316h1v3h-1zM444 448h1v4h-1zM424 326h1v5h-1zM614 453h1v4h-1zM345 232h1v3h-1zM344 229h1v3h-1zM351 246h1v3h-1zM410 284h1v3h-1zM689 469h3v1h-3zM761 469h2v1h-2zM765 469h2v1h-2zM496 413h2v1h-2zM599 413h2v1h-2zM677 477h6v1h-6zM783 477h1v1h-1zM445 453h1v1h-1zM473 453h1v1h-1zM164 521h3v1h-3zM91 517h12v1h-12zM156 517h1v1h-1zM171 517h1v1h-1zM399 262h2v1h-2zM212 198h3v1h-3zM265 198h1v1h-1zM318 198h7v1h-7zM356 255h1v1h-1zM382 255h3v1h-3zM392 255h2v1h-2zM533 380h3v1h-3zM546 380h5v1h-5zM477 446h1v1h-1zM505 402h1v1h-1zM576 402h2v1h-2zM416 305h1v1h-1zM199 209h1v1h-1zM271 209h1v1h-1zM303 209h1v1h-1zM336 209h1v1h-1zM114 485h1v1h-1zM623 485h1v1h-1zM665 485h1v1h-1zM801 485h1v1h-1zM803 485h1v1h-1zM808 485h1v1h-1zM813 485h2v1h-2zM118 481h1v1h-1zM124 481h1v1h-1zM621 481h1v1h-1zM669 481h2v1h-2zM794 481h5v1h-5zM505 401h1v1h-1zM575 401h1v1h-1zM208 200h2v1h-2zM267 200h1v1h-1zM314 200h2v1h-2zM329 200h2v1h-2zM76 506h1v1h-1zM141 506h1v1h-1zM446 454h1v1h-1zM472 454h1v1h-1zM492 421h1v1h-1zM280 219h2v1h-2zM340 219h1v1h-1zM449 459h1v1h-1zM468 459h1v1h-1zM715 459h2v1h-2zM724 459h2v1h-2zM741 459h1v1h-1zM450 460h1v1h-1zM467 460h1v1h-1zM711 460h4v1h-4zM742 460h1v1h-1zM531 381h2v1h-2zM551 381h1v1h-1zM628 491h5v1h-5zM652 491h3v1h-3zM818 491h1v1h-1zM824 491h1v1h-1zM828 491h1v1h-1zM832 491h1v1h-1zM836 491h1v1h-1zM115 484h1v1h-1zM126 484h1v1h-1zM622 484h1v1h-1zM666 484h1v1h-1zM800 484h1v1h-1zM804 484h1v1h-1zM807 484h1v1h-1zM113 488h1v1h-1zM128 488h1v1h-1zM625 488h1v1h-1zM657 488h1v1h-1zM810 488h1v1h-1zM816 488h1v1h-1zM821 488h1v1h-1zM830 488h1v1h-1zM65 492h1v1h-1zM633 492h1v1h-1zM647 492h5v1h-5zM825 492h1v1h-1zM827 492h1v1h-1zM833 492h1v1h-1zM836 492h1v1h-1zM480 442h1v1h-1zM448 458h1v1h-1zM469 458h1v1h-1zM717 458h7v1h-7zM726 458h2v1h-2zM734 458h7v1h-7zM452 462h1v1h-1zM465 462h1v1h-1zM703 462h3v1h-3zM746 462h3v1h-3zM499 410h1v1h-1zM594 410h2v1h-2zM274 214h1v1h-1zM292 214h2v1h-2zM338 214h1v1h-1zM504 403h1v1h-1zM578 403h7v1h-7zM346 236h1v1h-1zM518 389h1v1h-1zM561 389h1v1h-1zM363 260h7v1h-7zM397 260h1v1h-1zM225 194h4v1h-4zM262 194h1v1h-1zM517 390h1v1h-1zM562 390h1v1h-1zM489 424h1v1h-1zM453 463h2v1h-2zM463 463h2v1h-2zM702 463h1v1h-1zM749 463h1v1h-1zM89 516h2v1h-2zM103 516h1v1h-1zM155 516h1v1h-1zM172 516h1v1h-1zM455 464h2v1h-2zM460 464h3v1h-3zM700 464h2v1h-2zM750 464h1v1h-1zM755 464h1v1h-1zM536 379h10v1h-10zM360 258h1v1h-1zM373 258h4v1h-4zM396 258h1v1h-1zM210 199h2v1h-2zM266 199h1v1h-1zM316 199h2v1h-2zM325 199h4v1h-4zM232 192h4v1h-4zM256 192h4v1h-4zM627 490h1v1h-1zM655 490h1v1h-1zM817 490h1v1h-1zM819 490h1v1h-1zM823 490h1v1h-1zM828 490h1v1h-1zM831 490h1v1h-1zM114 486h1v1h-1zM623 486h1v1h-1zM659 486h6v1h-6zM802 486h1v1h-1zM809 486h1v1h-1zM812 486h1v1h-1zM815 486h1v1h-1zM202 204h1v1h-1zM269 204h1v1h-1zM308 204h1v1h-1zM334 204h1v1h-1zM348 240h1v1h-1zM273 213h1v1h-1zM294 213h7v1h-7zM507 399h1v1h-1zM572 399h2v1h-2zM686 472h1v1h-1zM768 472h1v1h-1zM692 468h2v1h-2zM760 468h1v1h-1zM763 468h2v1h-2zM130 494h1v1h-1zM635 494h1v1h-1zM641 494h2v1h-2zM834 494h1v1h-1zM451 461h1v1h-1zM466 461h1v1h-1zM706 461h5v1h-5zM743 461h3v1h-3zM83 514h5v1h-5zM105 514h1v1h-1zM153 514h1v1h-1zM215 197h3v1h-3zM264 197h1v1h-1zM79 510h1v1h-1zM146 510h2v1h-2zM501 407h1v1h-1zM590 407h2v1h-2zM683 476h1v1h-1zM777 476h6v1h-6zM447 457h1v1h-1zM470 457h1v1h-1zM728 457h6v1h-6zM404 270h1v1h-1zM117 482h1v1h-1zM125 482h1v1h-1zM621 482h1v1h-1zM668 482h1v1h-1zM799 482h1v1h-1zM806 482h1v1h-1zM483 437h1v1h-1zM522 386h2v1h-2zM557 386h1v1h-1zM131 495h1v1h-1zM636 495h5v1h-5zM222 195h3v1h-3zM263 195h1v1h-1zM275 216h2v1h-2zM287 216h3v1h-3zM457 465h3v1h-3zM698 465h2v1h-2zM751 465h1v1h-1zM753 465h2v1h-2zM756 465h2v1h-2zM78 509h1v1h-1zM145 509h1v1h-1zM65 493h1v1h-1zM130 493h1v1h-1zM634 493h1v1h-1zM643 493h4v1h-4zM826 493h1v1h-1zM833 493h1v1h-1zM835 493h1v1h-1zM479 444h1v1h-1zM68 498h1v1h-1zM132 498h1v1h-1zM116 483h1v1h-1zM126 483h1v1h-1zM622 483h1v1h-1zM667 483h1v1h-1zM800 483h1v1h-1zM805 483h1v1h-1zM807 483h1v1h-1zM357 256h2v1h-2zM380 256h2v1h-2zM394 256h1v1h-1zM529 382h2v1h-2zM552 382h1v1h-1zM77 507h1v1h-1zM142 507h1v1h-1zM160 520h4v1h-4zM167 520h2v1h-2zM229 193h3v1h-3zM260 193h2v1h-2zM236 191h11v1h-11zM251 191h5v1h-5zM683 475h1v1h-1zM776 475h1v1h-1zM158 519h2v1h-2zM169 519h1v1h-1zM694 467h2v1h-2zM759 467h1v1h-1zM528 383h1v1h-1zM553 383h1v1h-1zM526 384h2v1h-2zM554 384h1v1h-1zM128 489h1v1h-1zM626 489h1v1h-1zM656 489h1v1h-1zM817 489h1v1h-1zM820 489h1v1h-1zM822 489h1v1h-1zM829 489h1v1h-1zM831 489h1v1h-1zM495 414h1v1h-1zM601 414h1v1h-1zM119 480h5v1h-5zM671 480h3v1h-3zM786 480h3v1h-3zM792 480h2v1h-2zM506 400h1v1h-1zM574 400h1v1h-1zM277 217h1v1h-1zM284 217h3v1h-3zM482 439h1v1h-1zM493 418h1v1h-1zM603 418h1v1h-1zM74 504h1v1h-1zM138 504h1v1h-1zM203 203h2v1h-2zM268 203h1v1h-1zM309 203h2v1h-2zM333 203h1v1h-1zM272 211h1v1h-1zM302 211h1v1h-1zM513 394h1v1h-1zM566 394h1v1h-1zM70 501h1v1h-1zM134 501h1v1h-1zM361 259h2v1h-2zM370 259h3v1h-3zM396 259h1v1h-1zM524 385h2v1h-2zM555 385h2v1h-2zM69 500h1v1h-1zM133 500h1v1h-1zM81 513h2v1h-2zM105 513h1v1h-1zM152 513h1v1h-1zM346 235h1v1h-1zM199 210h1v1h-1zM272 210h1v1h-1zM302 210h1v1h-1zM336 210h1v1h-1zM520 387h2v1h-2zM558 387h1v1h-1zM73 503h1v1h-1zM137 503h1v1h-1zM353 251h1v1h-1zM354 252h1v1h-1zM355 254h1v1h-1zM385 254h7v1h-7zM71 502h2v1h-2zM135 502h2v1h-2zM218 196h4v1h-4zM264 196h1v1h-1zM686 471h1v1h-1zM768 471h1v1h-1zM685 473h1v1h-1zM769 473h6v1h-6zM500 409h1v1h-1zM593 409h1v1h-1zM402 264h1v1h-1zM406 275h1v1h-1zM419 312h1v1h-1zM511 395h2v1h-2zM567 395h2v1h-2zM200 207h1v1h-1zM270 207h1v1h-1zM305 207h1v1h-1zM68 499h1v1h-1zM133 499h1v1h-1zM200 208h1v1h-1zM271 208h1v1h-1zM304 208h1v1h-1zM359 257h1v1h-1zM377 257h3v1h-3zM395 257h1v1h-1zM475 450h1v1h-1zM67 497h1v1h-1zM132 497h1v1h-1zM201 206h1v1h-1zM270 206h1v1h-1zM306 206h1v1h-1zM201 205h1v1h-1zM269 205h1v1h-1zM307 205h1v1h-1zM334 205h1v1h-1zM273 212h1v1h-1zM301 212h1v1h-1zM398 261h1v1h-1zM499 411h1v1h-1zM596 411h1v1h-1zM508 398h1v1h-1zM571 398h1v1h-1zM674 479h1v1h-1zM785 479h1v1h-1zM789 479h3v1h-3zM503 404h1v1h-1zM585 404h2v1h-2zM498 412h1v1h-1zM597 412h2v1h-2zM515 392h1v1h-1zM564 392h1v1h-1zM696 466h2v1h-2zM752 466h1v1h-1zM758 466h1v1h-1zM205 202h1v1h-1zM268 202h1v1h-1zM311 202h1v1h-1zM333 202h1v1h-1zM478 445h1v1h-1zM113 487h1v1h-1zM624 487h1v1h-1zM658 487h1v1h-1zM809 487h1v1h-1zM811 487h1v1h-1zM815 487h1v1h-1zM445 452h1v1h-1zM474 452h1v1h-1zM418 310h1v1h-1zM675 478h2v1h-2zM784 478h1v1h-1zM687 470h2v1h-2zM767 470h1v1h-1zM502 406h1v1h-1zM589 406h1v1h-1zM509 397h1v1h-1zM570 397h1v1h-1zM350 245h1v1h-1zM481 440h1v1h-1zM510 396h1v1h-1zM569 396h1v1h-1zM447 456h1v1h-1zM471 456h1v1h-1zM477 447h1v1h-1zM416 306h1v1h-1zM417 307h1v1h-1zM406 274h1v1h-1zM343 227h1v1h-1zM347 238h1v1h-1zM489 425h1v1h-1zM274 215h1v1h-1zM290 215h2v1h-2zM338 215h1v1h-1zM684 474h1v1h-1zM775 474h1v1h-1zM157 518h1v1h-1zM170 518h1v1h-1zM247 190h4v1h-4zM278 218h2v1h-2zM282 218h2v1h-2zM516 391h1v1h-1zM563 391h1v1h-1zM75 505h1v1h-1zM139 505h2v1h-2zM206 201h2v1h-2zM267 201h1v1h-1zM312 201h2v1h-2zM331 201h2v1h-2zM492 420h1v1h-1zM483 438h1v1h-1zM488 427h1v1h-1zM480 441h1v1h-1zM80 512h1v1h-1zM150 512h2v1h-2zM502 405h1v1h-1zM587 405h2v1h-2zM79 511h1v1h-1zM148 511h2v1h-2zM476 448h1v1h-1zM352 250h1v1h-1zM78 508h1v1h-1zM143 508h2v1h-2zM446 455h1v1h-1zM472 455h1v1h-1zM348 239h1v1h-1zM495 415h1v1h-1zM602 415h1v1h-1zM487 429h1v1h-1zM494 416h1v1h-1zM602 416h1v1h-1zM404 269h1v1h-1zM491 422h1v1h-1zM408 280h1v1h-1zM88 515h1v1h-1zM104 515h1v1h-1zM154 515h1v1h-1zM172 515h1v1h-1zM479 443h1v1h-1zM340 220h1v1h-1zM131 496h1v1h-1zM494 417h1v1h-1zM603 417h1v1h-1zM347 237h1v1h-1zM354 253h1v1h-1zM500 408h1v1h-1zM592 408h1v1h-1zM402 265h1v1h-1zM519 388h1v1h-1zM559 388h2v1h-2zM488 426h1v1h-1zM352 249h1v1h-1zM514 393h1v1h-1zM565 393h1v1h-1zM487 428h1v1h-1zM401 263h1v1h-1zM419 311h1v1h-1zM475 449h1v1h-1zM408 279h1v1h-1zM484 436h1v1h-1zM490 423h1v1h-1zM417 308h1v1h-1zM474 451h1v1h-1zM418 309h1v1h-1zM343 228h1v1h-1zM493 419h1v1h-1zM350 244h1v1h-1zM73 502h2v2h-2zM77 507h2v2h-2zM92 516h3v1h-3zM281 217h1v5h-1zM280 218h1v2h-1zM283 218h1v3h-1zM285 218h1v2h-1zM288 216h1v3h-1zM292 213h1v3h-1z"/>
<g shape-rendering="crispEdges">
<rect x="654.5" y="245.5" width="111" height="67" fill="#fff" stroke="#000" stroke-width="1"/>
<rect x="680" y="262" width="24" height="1" fill="#0000ff"/>
<rect x="680" y="295" width="24" height="1" fill="#ff0000"/>
</g>
<text class="t tick" x="707" y="265.7" textLength="36.3" lengthAdjust="spacingAndGlyphs">T642N</text>
<text class="t tick" x="707" y="298.8" textLength="36.3" lengthAdjust="spacingAndGlyphs">T642S</text>
</svg>
</body></html>
